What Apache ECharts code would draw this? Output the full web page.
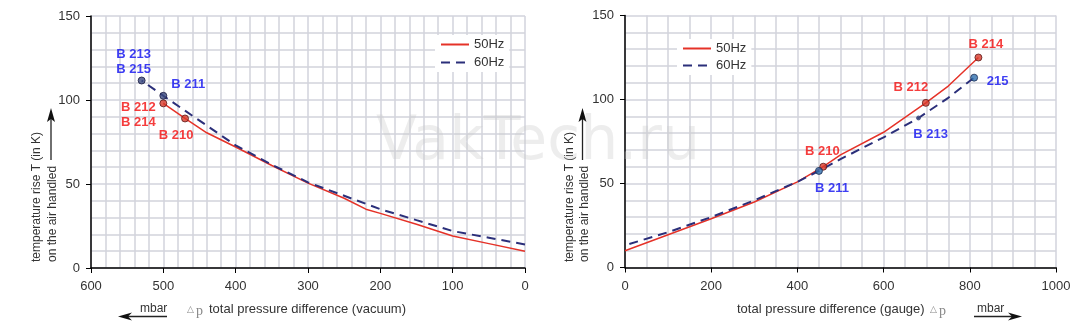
<!DOCTYPE html>
<html><head><meta charset="utf-8">
<script src="https://cdn.jsdelivr.net/npm/echarts@6/dist/echarts.min.js"></script>
<style>html,body{margin:0;padding:0;background:#fff}#c{width:1080px;height:336px}</style>
</head><body><div id="c"></div>
<script>
// ---- data: left chart (vacuum) ----
const vacX50 = [0, 50, 100, 150, 200, 220, 250, 300, 350, 400, 440, 470, 500];
const vacY50 = [10, 14.5, 19, 26, 32.5, 35, 41.5, 50.5, 61, 72, 80.5, 89, 98];
const vacX60 = [0, 50, 100, 150, 200, 250, 300, 350, 400, 500, 530];
const vacY60 = [14, 18, 22, 28.5, 35, 43, 51, 61.5, 73, 102.5, 111.6];
const vacPts50 = [[500, 98], [470, 89]];
const vacLbl50 = ['B 212\nB 214', 'B 210'];
const vacPts60 = [[530, 111.6], [500, 102.5]];
const vacLbl60 = ['B 213\nB 215', 'B 211'];
// ---- data: right chart (gauge) ----
const gauX50 = [0, 100, 200, 300, 400, 460, 500, 600, 698, 750, 820];
const gauY50 = [10, 19.5, 29, 39, 51, 60, 67, 80.5, 98, 108, 125];
const gauX60 = [10, 100, 200, 300, 400, 450, 500, 600, 681, 750, 810];
const gauY60 = [14, 21, 30, 40, 51, 57.5, 64.5, 77.5, 89, 101, 113];
const gauPts50 = [[460, 60], [698, 98], [820, 125]];
const gauLbl50 = ['B 210', 'B 212', 'B 214'];
const gauPts60 = [[450, 57.5], [681, 89], [810, 113]];
const gauLbl60 = ['B 211', 'B 213', '215'];
const yTicks = [0, 50, 100, 150];
const seriesNames = ['50Hz', '60Hz'];

const FONT = '"Liberation Sans", Arial, sans-serif';
const RED = '#e53228', NAVY = '#2b2f7a', LBLRED = '#f20c0c', LBLBLUE = '#0f0ff0';
const GRIDC = '#d2d3dc';

function zip(xs, ys) { return xs.map((x, i) => [x, ys[i]]); }

function xAxis(gi, max, interval, minorSplit, inverse) {
  return {
    gridIndex: gi, type: 'value', min: 0, max: max, interval: interval, inverse: inverse,
    axisLine: { onZero: false, lineStyle: { color: '#000', width: 1.5 } },
    axisTick: { length: 5, lineStyle: { color: '#000', width: 1 } },
    axisLabel: { color: '#333', fontSize: 13, fontFamily: FONT, margin: 12, formatter: v => String(v) },
    splitLine: { show: true, lineStyle: { color: GRIDC, width: 1.5 } },
    minorTick: { show: false, splitNumber: minorSplit },
    minorSplitLine: { show: true, lineStyle: { color: GRIDC, width: 1.5 } }
  };
}
function yAxis(gi) {
  return {
    gridIndex: gi, type: 'value', min: yTicks[0], max: yTicks[yTicks.length - 1], interval: yTicks[1] - yTicks[0],
    axisLine: { onZero: false, lineStyle: { color: '#000', width: 1.5 } },
    axisTick: { length: 5, lineStyle: { color: '#000', width: 1 } },
    axisLabel: { color: '#333', fontSize: 13, fontFamily: FONT, margin: 11 },
    splitLine: { show: true, lineStyle: { color: GRIDC, width: 1.5 } },
    minorTick: { show: false, splitNumber: 5 },
    minorSplitLine: { show: true, lineStyle: { color: GRIDC, width: 1.5 } }
  };
}
function lineSeries(gi, name, data, color, dashed) {
  return {
    type: 'line', name: name, xAxisIndex: gi, yAxisIndex: gi, data: data,
    symbol: 'none', smooth: false, z: 3,
    lineStyle: { color: color, width: dashed ? 2 : 1.5, type: dashed ? [9, 6] : 'solid' },
    itemStyle: { color: color }
  };
}
function markSeries(gi, pts, labels, offsets, styles, lblColor) {
  return {
    type: 'scatter', xAxisIndex: gi, yAxisIndex: gi, z: 5, silent: true,
    data: pts.map((p, i) => ({
      value: p,
      symbolSize: styles[i].size,
      itemStyle: { color: styles[i].fill, borderColor: styles[i].border, borderWidth: 1 },
      label: {
        show: true, formatter: labels[i], position: 'inside', offset: offsets[i],
        color: lblColor, fontWeight: 'bold', fontSize: 13, fontFamily: FONT, lineHeight: 15,
        align: 'center', verticalAlign: 'middle'
      }
    }))
  };
}
const redM = { size: 7, fill: '#d8392b', border: '#5a1a1a' };
const navyM = { size: 7, fill: '#3b4a80', border: '#1a1a40' };
const tealM = { size: 7, fill: '#2f6fae', border: '#1a2a50' };
const smallM = { size: 4, fill: '#3b4a80', border: '#3b4a80' };

function txt(x, y, text, opts) {
  return {
    type: 'text', x: x, y: y, silent: true, z: 50,
    style: Object.assign({ text: text, font: '13px ' + FONT, fill: '#333',
      align: 'left', verticalAlign: 'middle', textAlign: 'left', textVerticalAlign: 'middle' }, opts || {})
  };
}
function rtxt(x, y, text) {
  const t = txt(x, y, text, { font: '12px ' + FONT });
  t.rotation = Math.PI / 2;
  return t;
}
function line(x1, y1, x2, y2) {
  return { type: 'line', silent: true, z: 50, shape: { x1: x1, y1: y1, x2: x2, y2: y2 }, style: { stroke: '#222', lineWidth: 1.3 } };
}
function poly(points) {
  return { type: 'polygon', silent: true, z: 50, shape: { points: points }, style: { fill: '#111' } };
}

const graphic = [
  // watermark
  { type: 'text', x: 538, y: 143, silent: true, z: 100,
    style: { text: 'VakTech.ru', font: '60px "DejaVu Sans", sans-serif', fill: 'rgba(200,200,200,0.33)',
      align: 'center', verticalAlign: 'middle', textAlign: 'center', textVerticalAlign: 'middle' } },
  // left y title
  rtxt(37, 262, 'temperature rise T (in K)'),
  rtxt(52.5, 262, 'on the air handled'),
  line(51, 160, 51, 119), poly([[51, 108], [47, 122], [51, 119], [55, 122]]),
  // right y title
  rtxt(569.5, 262, 'temperature rise T (in K)'),
  rtxt(584.5, 262, 'on the air handled'),
  line(582.5, 160, 582.5, 119), poly([[582.5, 108], [578.5, 122], [582.5, 119], [586.5, 122]]),
  // left x title
  txt(187, 310, '\u25B3', { font: '9px "DejaVu Sans", sans-serif', fill: '#888' }),
  txt(196, 311, 'p', { font: '14px "Liberation Serif", serif', fill: '#888' }),
  txt(209, 309, 'total pressure difference (vacuum)'),
  txt(140, 309, 'mbar', { font: '12px ' + FONT }),
  line(124, 316.5, 167, 316.5), poly([[118, 316.5], [132, 312.5], [128, 316.5], [132, 320.5]]),
  // right x title
  txt(737, 309, 'total pressure difference (gauge)'),
  txt(930, 310, '\u25B3', { font: '9px "DejaVu Sans", sans-serif', fill: '#888' }),
  txt(939, 311, 'p', { font: '14px "Liberation Serif", serif', fill: '#888' }),
  txt(977, 309, 'mbar', { font: '12px ' + FONT }),
  line(974, 316.5, 1016, 316.5), poly([[1022, 316.5], [1008, 312.5], [1012, 316.5], [1008, 320.5]])
];

const legendBase = {
  orient: 'vertical', itemWidth: 28, itemHeight: 12, itemGap: 5, data: seriesNames,
  backgroundColor: '#fff', padding: [3, 5], selectedMode: false,
  itemStyle: { opacity: 0, borderWidth: 0 },
  textStyle: { color: '#333', fontSize: 13, fontFamily: FONT }
};

const option = {
  animation: false,
  backgroundColor: '#fff',
  grid: [
    { left: 91, top: 16, width: 434, height: 252 },
    { left: 625, top: 15.5, width: 431, height: 252 }
  ],
  xAxis: [xAxis(0, 600, 100, 5, true), xAxis(1, 1000, 200, 4, false)],
  yAxis: [yAxis(0), yAxis(1)],
  legend: [
    Object.assign({ left: 435, top: 35 }, legendBase),
    Object.assign({ left: 677, top: 39 }, legendBase, { itemGap: 4 })
  ],
  series: [
    lineSeries(0, '50Hz', zip(vacX50, vacY50), RED, false),
    lineSeries(0, '60Hz', zip(vacX60, vacY60), NAVY, true),
    markSeries(0, vacPts50, vacLbl50, [[-25, 12], [-9, 16.5]], [redM, redM], LBLRED),
    markSeries(0, vacPts60, vacLbl60, [[-8, -19], [25, -11.5]], [navyM, navyM], LBLBLUE),
    lineSeries(1, '50Hz', zip(gauX50, gauY50), RED, false),
    lineSeries(1, '60Hz', zip(gauX60, gauY60), NAVY, true),
    markSeries(1, gauPts50, gauLbl50, [[-1, -15.5], [-15, -15], [7.5, -13]], [redM, redM, redM], LBLRED),
    markSeries(1, gauPts60, gauLbl60, [[13, 18], [12, 16], [23.5, 3.5]], [tealM, smallM, tealM], LBLBLUE)
  ],
  graphic: graphic
};
const chart = echarts.init(document.getElementById('c'), null, { renderer: 'canvas' });
chart.setOption(option);
</script>
</body></html>
